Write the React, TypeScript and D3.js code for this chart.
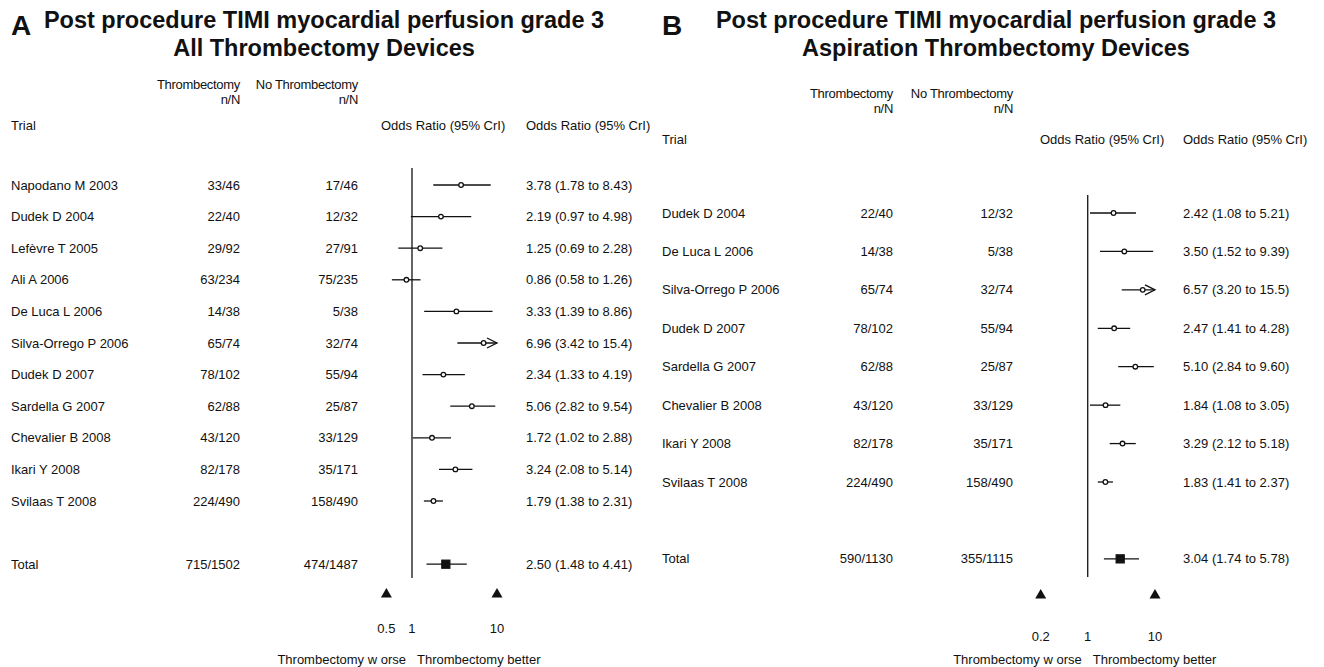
import React, { useRef, useEffect } from "react";
import * as d3 from "d3";

// Panel A: all thrombectomy devices
const trialsA = [
  "Napodano M 2003",
  "Dudek D 2004",
  "Lefèvre T 2005",
  "Ali A 2006",
  "De Luca L 2006",
  "Silva-Orrego P 2006",
  "Dudek D 2007",
  "Sardella G 2007",
  "Chevalier B 2008",
  "Ikari Y 2008",
  "Svilaas T 2008",
];
const thrombA = ["33/46", "22/40", "29/92", "63/234", "14/38", "65/74", "78/102", "62/88", "43/120", "82/178", "224/490"];
const noThrombA = ["17/46", "12/32", "27/91", "75/235", "5/38", "32/74", "55/94", "25/87", "33/129", "35/171", "158/490"];
const orA = [3.78, 2.19, 1.25, 0.86, 3.33, 6.96, 2.34, 5.06, 1.72, 3.24, 1.79];
const loA = [1.78, 0.97, 0.69, 0.58, 1.39, 3.42, 1.33, 2.82, 1.02, 2.08, 1.38];
const hiA = [8.43, 4.98, 2.28, 1.26, 8.86, 15.4, 4.19, 9.54, 2.88, 5.14, 2.31];
const totalA = ["715/1502", "474/1487"];
const totalOrA = [2.5, 1.48, 4.41];
const ticksA = [0.5, 1, 10];

// Panel B: aspiration thrombectomy devices
const trialsB = [
  "Dudek D 2004",
  "De Luca L 2006",
  "Silva-Orrego P 2006",
  "Dudek D 2007",
  "Sardella G 2007",
  "Chevalier B 2008",
  "Ikari Y 2008",
  "Svilaas T 2008",
];
const thrombB = ["22/40", "14/38", "65/74", "78/102", "62/88", "43/120", "82/178", "224/490"];
const noThrombB = ["12/32", "5/38", "32/74", "55/94", "25/87", "33/129", "35/171", "158/490"];
const orB = [2.42, 3.5, 6.57, 2.47, 5.1, 1.84, 3.29, 1.83];
const loB = [1.08, 1.52, 3.2, 1.41, 2.84, 1.08, 2.12, 1.41];
const hiB = [5.21, 9.39, 15.5, 4.28, 9.6, 3.05, 5.18, 2.37];
const totalB = ["590/1130", "355/1115"];
const totalOrB = [3.04, 1.74, 5.78];
const ticksB = [0.2, 1, 10];

const FONT = "'Liberation Sans', Arial, sans-serif";

const fmt = (v) => (v < 10 ? v.toFixed(2) : v.toFixed(1));
const orLabel = (o, l, h) => `${fmt(o)} (${fmt(l)} to ${fmt(h)})`;

const drawPanel = (svg, p) => {
  const g = svg.append("g").attr("font-family", FONT).attr("fill", "#111");

  // title
  g.append("text")
    .attr("x", p.letterX)
    .attr("y", 35)
    .attr("font-size", 28)
    .attr("font-weight", "bold")
    .text(p.letter);
  [p.title1, p.title2].forEach((t, i) => {
    g.append("text")
      .attr("x", p.titleCx)
      .attr("y", 28 + i * 28)
      .attr("text-anchor", "middle")
      .attr("font-size", 23.5)
      .attr("font-weight", "bold")
      .text(t);
  });

  // column headers
  const head = g.append("g").attr("font-size", 13);
  head.append("text").attr("x", p.col1).attr("y", p.headY).attr("text-anchor", "end").attr("letter-spacing", -0.3).text("Thrombectomy");
  head.append("text").attr("x", p.col1).attr("y", p.headY + 15).attr("text-anchor", "end").attr("letter-spacing", -0.3).text("n/N");
  head.append("text").attr("x", p.col2).attr("y", p.headY).attr("text-anchor", "end").attr("letter-spacing", -0.3).text("No Thrombectomy");
  head.append("text").attr("x", p.col2).attr("y", p.headY + 15).attr("text-anchor", "end").attr("letter-spacing", -0.3).text("n/N");
  head.append("text").attr("x", p.labelX).attr("y", p.trialY).text("Trial");
  head.append("text").attr("x", p.orHeadX).attr("y", p.trialY).text("Odds Ratio (95% CrI)");
  head.append("text").attr("x", p.orTextX).attr("y", p.trialY).text("Odds Ratio (95% CrI)");

  const x = d3.scaleLog().domain(p.domain).range(p.range);
  const n = p.trials.length;
  const y = d3.scaleLinear().domain([0, n - 1]).range(p.rowRange);
  const totalY = y(n + 1);

  // null line at OR = 1
  g.append("line")
    .attr("x1", x(1))
    .attr("x2", x(1))
    .attr("y1", p.lineTop)
    .attr("y2", p.lineBottom)
    .attr("stroke", "#111")
    .attr("stroke-width", 1.3);

  const rows = p.trials.map((t, i) => ({
    name: t,
    a: p.thromb[i],
    b: p.noThromb[i],
    or: p.or[i],
    lo: p.lo[i],
    hi: p.hi[i],
    y: y(i),
  }));

  const txt = g.append("g").attr("font-size", 13);
  const addRowText = (r) => {
    txt.append("text").attr("x", p.labelX).attr("y", r.y).attr("dy", "0.35em").text(r.name);
    txt.append("text").attr("x", p.col1).attr("y", r.y).attr("dy", "0.35em").attr("text-anchor", "end").text(r.a);
    txt.append("text").attr("x", p.col2).attr("y", r.y).attr("dy", "0.35em").attr("text-anchor", "end").text(r.b);
    txt.append("text").attr("x", p.orTextX).attr("y", r.y).attr("dy", "0.35em").text(orLabel(r.or, r.lo, r.hi));
  };
  rows.forEach(addRowText);

  const maxV = p.domain[1];
  const marks = g.append("g").attr("stroke", "#111").attr("stroke-width", 1.3);
  rows.forEach((r) => {
    const x2 = x(Math.min(r.hi, maxV));
    marks.append("line").attr("x1", x(r.lo)).attr("x2", x2).attr("y1", r.y).attr("y2", r.y);
    if (r.hi > maxV) {
      marks.append("path")
        .attr("d", `M${x2 - 10},${r.y - 5}L${x2},${r.y}L${x2 - 10},${r.y + 5}`)
        .attr("fill", "none");
    }
    marks.append("circle").attr("cx", x(r.or)).attr("cy", r.y).attr("r", 2.3).attr("fill", "#fff");
  });

  // pooled estimate
  const [to, tl, th] = p.totalOr;
  addRowText({ name: "Total", a: p.total[0], b: p.total[1], or: to, lo: tl, hi: th, y: totalY });
  marks.append("line").attr("x1", x(tl)).attr("x2", x(th)).attr("y1", totalY).attr("y2", totalY);
  marks.append("rect")
    .attr("x", x(to) - 4)
    .attr("y", totalY - 4)
    .attr("width", 8)
    .attr("height", 8)
    .attr("fill", "#111");

  // direction triangles at the axis extremes
  [p.ticks[0], p.ticks[p.ticks.length - 1]].forEach((v) => {
    const cx = x(v);
    g.append("path")
      .attr("d", `M${cx - 5.5},${p.triY + 4.5}L${cx},${p.triY - 5}L${cx + 5.5},${p.triY + 4.5}Z`)
      .attr("fill", "#111");
  });

  // tick labels
  g.append("g")
    .attr("font-size", 13)
    .selectAll("text")
    .data(p.ticks)
    .join("text")
    .attr("x", (d) => x(d))
    .attr("y", p.tickY)
    .attr("dy", "0.35em")
    .attr("text-anchor", "middle")
    .text((d) => String(d));

  g.append("text")
    .attr("x", x(1) - 6)
    .attr("y", 659)
    .attr("dy", "0.35em")
    .attr("font-size", 13)
    .attr("text-anchor", "end")
    .text("Thrombectomy w orse");
  g.append("text")
    .attr("x", x(1) + 5)
    .attr("y", 659)
    .attr("dy", "0.35em")
    .attr("font-size", 13)
    .text("Thrombectomy better");
};

const App = () => {
  const svgRef = useRef(null);

  useEffect(() => {
    const svg = d3.select(svgRef.current);
    svg.selectAll("*").remove();

    drawPanel(svg, {
      letter: "A",
      letterX: 11,
      title1: "Post procedure TIMI myocardial perfusion grade 3",
      title2: "All Thrombectomy Devices",
      titleCx: 324,
      labelX: 11,
      col1: 240,
      col2: 358,
      orHeadX: 381,
      orTextX: 526,
      headY: 89,
      trialY: 130,
      trials: trialsA,
      thromb: thrombA,
      noThromb: noThrombA,
      or: orA,
      lo: loA,
      hi: hiA,
      total: totalA,
      totalOr: totalOrA,
      ticks: ticksA,
      domain: [0.5, 10],
      range: [386.4, 497],
      rowRange: [185, 501],
      lineTop: 168,
      lineBottom: 578,
      triY: 593,
      tickY: 628,
    });

    drawPanel(svg, {
      letter: "B",
      letterX: 662,
      title1: "Post procedure TIMI myocardial perfusion grade 3",
      title2: "Aspiration Thrombectomy Devices",
      titleCx: 996,
      labelX: 662,
      col1: 893,
      col2: 1013,
      orHeadX: 1040,
      orTextX: 1183,
      headY: 98,
      trialY: 144,
      trials: trialsB,
      thromb: thrombB,
      noThromb: noThrombB,
      or: orB,
      lo: loB,
      hi: hiB,
      total: totalB,
      totalOr: totalOrB,
      ticks: ticksB,
      domain: [0.2, 10],
      range: [1040.7, 1155],
      rowRange: [213, 482],
      lineTop: 195,
      lineBottom: 577,
      triY: 594,
      tickY: 636,
    });
  }, []);

  return (
    <svg
      ref={svgRef}
      width={1324}
      height={667}
      style={{ position: "absolute", left: 0, top: 0, background: "#fff" }}
    />
  );
};

export default App;
